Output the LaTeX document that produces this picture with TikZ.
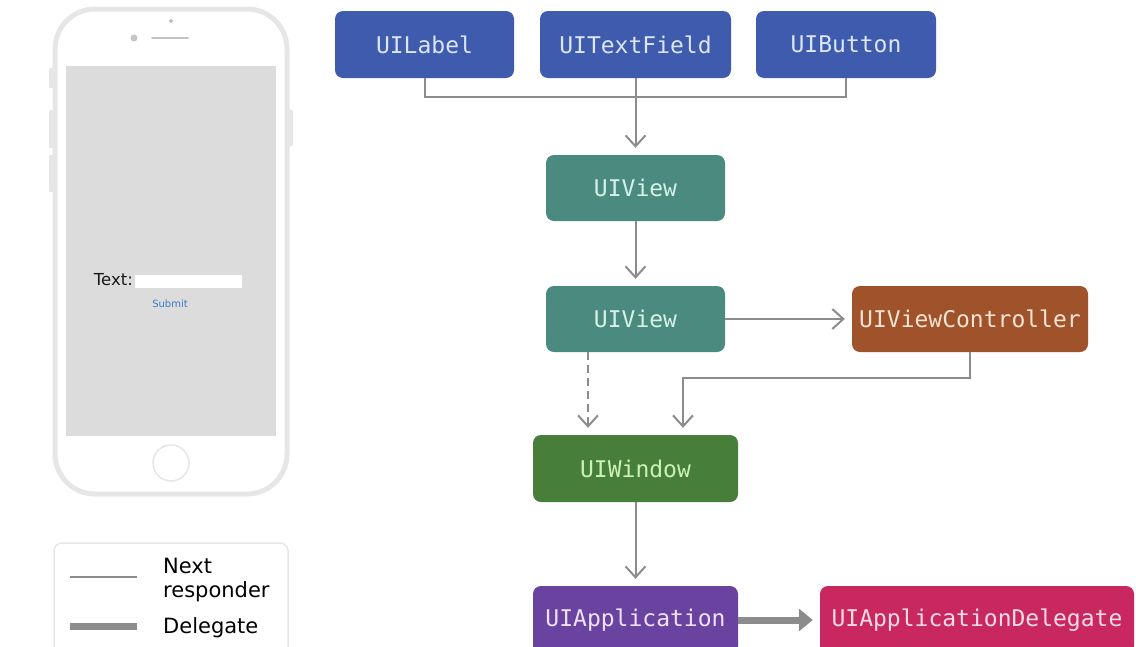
\documentclass[tikz,border=0pt]{standalone}
\usepackage{fontspec}
\setmainfont{DejaVu Sans}
\newfontfamily\boxfont{DejaVu Sans Mono}
\usetikzlibrary{arrows.meta}
\definecolor{cblue}{HTML}{3E5BAE}
\definecolor{tblue}{HTML}{DCE6FA}
\definecolor{cteal}{HTML}{4B8A7E}
\definecolor{tteal}{HTML}{D4F2EA}
\definecolor{cbrown}{HTML}{A0522A}
\definecolor{tbrown}{HTML}{F8E4D4}
\definecolor{cgreen}{HTML}{467E3A}
\definecolor{tgreen}{HTML}{CDF2B8}
\definecolor{cpurple}{HTML}{6A42A0}
\definecolor{tpurple}{HTML}{EEE2FF}
\definecolor{cpink}{HTML}{C8285F}
\definecolor{tpink}{HTML}{FADCE4}
\definecolor{cline}{HTML}{8C8C8C}
\definecolor{phone}{HTML}{E6E6E6}
\definecolor{screen}{HTML}{DCDCDC}
\definecolor{linkblue}{HTML}{3A7BC8}
\begin{document}
\begin{tikzpicture}[x=1pt,y=-1pt,
  box/.style={rectangle, rounded corners=8pt, minimum height=67pt, inner sep=0pt,
    font=\boxfont\fontsize{23}{27}\selectfont},
  resp/.style={draw=cline, line width=2pt},
  resparrow/.style={resp, -{Straight Barb[length=11pt,width=20pt]}, shorten >=7pt},
  delegarrow/.style={draw=cline, line width=7pt, -{Triangle[length=14pt,width=22pt]}, shorten >=7pt},
  legendtext/.style={font=\fontsize{21}{24}\selectfont, anchor=west, inner sep=0pt, align=left}]
\useasboundingbox (0,0) rectangle (1136,646);
\clip (0,0) rectangle (1136,646);

% phone
\node[draw=phone, line width=5pt, rounded corners=40pt, minimum width=232pt, minimum height=485pt, inner sep=0pt] (phone) at (171,251.5) {};
\fill[phone, rounded corners=1pt] (49,68) rectangle (54,88);
\fill[phone, rounded corners=1pt] (49,110) rectangle (54,148);
\fill[phone, rounded corners=1pt] (49,155) rectangle (54,192);
\fill[phone, rounded corners=1pt] (288,110) rectangle (293,146);
\node[fill=screen, minimum width=210pt, minimum height=370pt, inner sep=0pt] (scr) at (171,251) {};
\fill[phone!85!black] (134,38) circle (3.5pt);
\draw[phone!85!black, line width=2pt, line cap=round] (152,38) -- (188,38);
\fill[phone!85!black] (171,21) circle (2pt);
\node[draw=phone, line width=1.5pt, circle, minimum size=36pt, inner sep=0pt] (home) at (171,463) {};
\node[font=\fontsize{16.5}{18}\selectfont, text=black!90, anchor=east, inner sep=0pt] (txt) at (133,280) {Text:};
\node[fill=white, minimum width=107pt, minimum height=13pt, inner sep=0pt] (field) at (188.5,281.5) {};
\node[font=\fontsize{10}{12}\selectfont, text=linkblue, inner sep=0pt] (sub) at (170,304) {Submit};

% legend
\node[draw=phone, line width=1.5pt, rounded corners=8pt, minimum width=234pt, minimum height=120pt, inner sep=0pt] (leg) at (171,603) {};
\coordinate (l1a) at (70,577);
\coordinate (l1b) at (137,577);
\coordinate (l2a) at (70,626);
\coordinate (l2b) at (137,626);
\draw[resp] (l1a) -- (l1b);
\draw[draw=cline, line width=7pt] (l2a) -- (l2b);
\node[legendtext] (ln) at (163,580) {Next\\responder};
\node[legendtext] (ld) at (163,628) {Delegate};

% boxes
\node[box, fill=cblue, text=tblue, minimum width=179pt] (lab) at (424.5,44.5) {UILabel};
\node[box, fill=cblue, text=tblue, minimum width=191pt] (tf) at (635.5,44.5) {UITextField};
\node[box, fill=cblue, text=tblue, minimum width=180pt] (btn) at (846,44.5) {UIButton};
\node[box, fill=cteal, text=tteal, minimum width=179pt, minimum height=66pt] (v1) at (635.5,188) {UIView};
\node[box, fill=cteal, text=tteal, minimum width=179pt, minimum height=66pt] (v2) at (635.5,319) {UIView};
\node[box, fill=cbrown, text=tbrown, minimum width=236pt, minimum height=66pt] (vc) at (970,319) {UIViewController};
\node[box, fill=cgreen, text=tgreen, minimum width=205pt] (win) at (635.5,468.5) {UIWindow};
\node[box, fill=cpurple, text=tpurple, minimum width=205pt, minimum height=68pt] (app) at (635.5,620) {UIApplication};
\node[box, fill=cpink, text=tpink, minimum width=314pt, minimum height=68pt] (del) at (977,620) {UIApplicationDelegate};

% connectors
\coordinate (j) at (635.5,97);
\draw[resp] (lab.south) |- (j) -| (btn.south);
\draw[resparrow] (tf.south) -- (v1.north);
\draw[resparrow] (v1.south) -- (v2.north);
\draw[resparrow] (v2.east) -- (vc.west);
\coordinate (d) at (588,352);
\draw[resparrow, dash pattern=on 8pt off 5pt] (d) -- (d |- win.north);
\coordinate (k) at (683,378);
\draw[resparrow] (vc.south) |- (k) -- (k |- win.north);
\draw[resparrow] (win.south) -- (app.north);
\draw[delegarrow] (app.east) -- (del.west);
\end{tikzpicture}
\end{document}
